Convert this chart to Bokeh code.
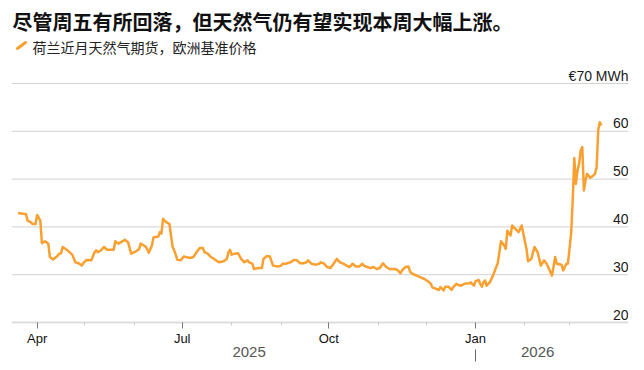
import pandas as pd
from bokeh.plotting import figure
from bokeh.models import ColumnDataSource, Range1d, FixedTicker, Span, DatetimeAxis
from bokeh.core.properties import value
from bokeh.embed import file_html
from bokeh.resources import INLINE

# ---------------- data ----------------
title_text = "尽管周五有所回落，但天然气仍有望实现本周大幅上涨。"
legend_text = "荷兰近月天然气期货，欧洲基准价格"

dates = [
    "2025-03-20", "2025-03-24", "2025-03-25", "2025-03-26", "2025-03-28", "2025-03-29", "2025-03-31",
    "2025-04-01", "2025-04-03", "2025-04-04", "2025-04-06", "2025-04-08", "2025-04-09", "2025-04-11",
    "2025-04-13", "2025-04-15", "2025-04-16", "2025-04-17", "2025-04-20", "2025-04-23", "2025-04-25",
    "2025-04-27", "2025-04-29", "2025-04-30", "2025-05-02", "2025-05-05", "2025-05-07", "2025-05-08",
    "2025-05-09", "2025-05-11", "2025-05-13", "2025-05-15", "2025-05-19", "2025-05-20", "2025-05-22",
    "2025-05-26", "2025-05-28", "2025-05-30", "2025-06-02", "2025-06-04", "2025-06-05", "2025-06-08",
    "2025-06-09", "2025-06-10", "2025-06-12", "2025-06-13", "2025-06-16", "2025-06-17", "2025-06-18",
    "2025-06-19", "2025-06-21", "2025-06-23", "2025-06-25", "2025-06-26", "2025-06-28", "2025-06-30",
    "2025-07-02", "2025-07-06", "2025-07-08", "2025-07-10", "2025-07-12", "2025-07-14", "2025-07-15",
    "2025-07-17", "2025-07-19", "2025-07-21", "2025-07-24", "2025-07-27", "2025-07-29", "2025-07-30",
    "2025-07-31", "2025-08-01", "2025-08-03", "2025-08-05", "2025-08-07", "2025-08-09", "2025-08-11",
    "2025-08-12", "2025-08-14", "2025-08-15", "2025-08-18", "2025-08-20", "2025-08-21", "2025-08-23",
    "2025-08-25", "2025-08-27", "2025-08-30", "2025-09-01", "2025-09-02", "2025-09-04", "2025-09-05",
    "2025-09-07", "2025-09-09", "2025-09-11", "2025-09-13", "2025-09-15", "2025-09-17", "2025-09-18",
    "2025-09-20", "2025-09-23", "2025-09-25", "2025-09-26", "2025-09-28", "2025-09-30", "2025-10-02",
    "2025-10-04", "2025-10-06", "2025-10-08", "2025-10-10", "2025-10-14", "2025-10-16", "2025-10-18",
    "2025-10-20", "2025-10-22", "2025-10-23", "2025-10-25", "2025-10-27", "2025-10-29", "2025-10-31",
    "2025-11-02", "2025-11-04", "2025-11-06", "2025-11-08", "2025-11-11", "2025-11-13", "2025-11-15",
    "2025-11-16", "2025-11-18", "2025-11-20", "2025-11-21", "2025-11-22", "2025-11-25", "2025-11-28",
    "2025-11-30", "2025-12-03", "2025-12-04", "2025-12-05", "2025-12-07", "2025-12-09", "2025-12-10",
    "2025-12-12", "2025-12-13", "2025-12-15", "2025-12-17", "2025-12-18", "2025-12-20", "2025-12-21",
    "2025-12-23", "2025-12-25", "2025-12-28", "2025-12-29", "2025-12-31", "2026-01-01", "2026-01-03",
    "2026-01-04", "2026-01-05", "2026-01-06", "2026-01-07", "2026-01-08", "2026-01-10", "2026-01-12",
    "2026-01-14", "2026-01-15", "2026-01-17", "2026-01-19", "2026-01-20", "2026-01-21", "2026-01-23",
    "2026-01-24", "2026-01-26", "2026-01-28", "2026-01-30", "2026-01-31", "2026-02-02", "2026-02-03",
    "2026-02-05", "2026-02-07", "2026-02-09", "2026-02-11", "2026-02-13", "2026-02-15", "2026-02-18",
    "2026-02-20", "2026-02-21", "2026-02-24", "2026-02-25", "2026-02-27", "2026-02-28", "2026-03-02",
    "2026-03-03", "2026-03-04", "2026-03-05", "2026-03-06", "2026-03-07", "2026-03-08", "2026-03-09",
    "2026-03-10", "2026-03-11", "2026-03-12", "2026-03-14", "2026-03-15", "2026-03-17", "2026-03-18",
    "2026-03-19", "2026-03-20", "2026-03-21",
]

prices = [
    42.9, 42.7, 42.7, 41.3, 41.0, 40.6, 40.6,
    42.5, 41.3, 36.6, 37.0, 36.5, 33.7, 33.2,
    33.7, 34.4, 34.5, 35.8, 35.1, 34.2, 32.6,
    32.4, 31.9, 32.4, 33.1, 33.0, 34.7, 35.1,
    34.7, 35.1, 35.8, 35.2, 35.2, 37.0, 36.5,
    37.3, 36.8, 34.4, 34.9, 35.4, 36.5, 35.9,
    35.4, 34.6, 36.1, 37.8, 38.0, 38.9, 38.6,
    41.7, 41.0, 40.6, 35.8, 35.1, 33.1, 33.0,
    33.8, 33.5, 33.7, 34.7, 35.6, 35.6, 34.7,
    34.4, 33.7, 33.3, 32.6, 32.8, 33.3, 34.7,
    35.2, 34.2, 34.4, 34.5, 33.3, 32.6, 33.0,
    32.6, 32.3, 31.2, 31.4, 31.4, 33.3, 33.9,
    33.8, 31.9, 31.7, 31.9, 32.3, 32.3, 32.4,
    32.6, 33.1, 33.0, 32.4, 32.4, 32.6, 33.0,
    32.3, 32.1, 32.3, 32.6, 32.3, 31.6, 31.4,
    32.3, 33.3, 32.6, 32.3, 31.6, 32.3, 31.7,
    31.7, 32.3, 31.9, 31.6, 31.4, 31.6, 31.2,
    31.4, 32.4, 31.6, 31.2, 31.2, 31.0, 30.3,
    30.9, 31.6, 31.7, 30.6, 30.3, 29.8, 29.4,
    29.1, 28.4, 28.1, 27.3, 27.1, 26.8, 27.4,
    26.7, 27.5, 27.5, 26.8, 27.4, 28.1, 27.9,
    27.7, 28.1, 28.2, 28.4, 27.7, 28.6, 28.9,
    28.1, 27.5, 28.4, 28.8, 27.7, 28.4, 29.8,
    31.6, 32.4, 37.0, 36.1, 35.4, 39.2, 38.2,
    40.3, 39.6, 38.9, 40.3, 38.6, 35.4, 32.8,
    33.3, 35.8, 34.7, 31.9, 33.0, 32.1, 29.8,
    33.7, 32.3, 32.1, 30.9, 32.3, 32.3, 38.6,
    45.5, 54.4, 49.0, 51.8, 53.2, 56.0, 56.7,
    47.6, 49.7, 51.1, 50.3, 50.5, 51.1, 52.5,
    60.2, 61.9, 61.2,
]

y_ticks = [20, 30, 40, 50, 60, 70]
y_tick_labels = ["20", "30", "40", "50", "60", "€70 MWh"]

month_tick_dates = ["2025-04-01", "2025-07-01", "2025-10-01", "2026-01-01"]
month_tick_labels = ["Apr", "Jul", "Oct", "Jan"]
minor_tick_dates = ["2025-05-01", "2025-06-01", "2025-08-01", "2025-09-01", "2025-11-01",
                    "2025-12-01", "2026-02-01", "2026-03-01"]

year_label_dates = ["2025-08-12", "2026-02-09"]
year_labels = ["2025", "2026"]
year_separator_dates = ["2026-01-01"]

x_window = ["2025-03-15T22:00", "2026-04-07T00:00"]

# ---------------- layout / style ----------------
W, H = 644, 370
B_LEFT, B_RIGHT = 11, 16
AXIS_PY = 322            # pixel row of the value-20 baseline
FRAME_W = W - B_LEFT - B_RIGHT
PX_PER_UNIT = 4.78
ORANGE = "#f9a030"


def ms(d):
    return pd.Timestamp(d).value / 1e6


x0, x1 = ms(x_window[0]), ms(x_window[1])
y_base = y_ticks[0]
y0 = y_base - (H - AXIS_PY) / PX_PER_UNIT
y1 = y_base + AXIS_PY / PX_PER_UNIT


def xpx(px):
    return x0 + (px - B_LEFT) / FRAME_W * (x1 - x0)


def ypx(py):
    return y_base + (AXIS_PY - py) / PX_PER_UNIT


p = figure(width=W, height=H, x_axis_type="datetime", y_axis_location=None,
           x_range=Range1d(x0, x1), y_range=Range1d(y0, y1),
           output_backend="svg", toolbar_location=None,
           min_border_left=B_LEFT, min_border_right=B_RIGHT,
           min_border_top=0, min_border_bottom=0)
p.title.visible = False
p.outline_line_color = None
p.background_fill_color = "white"
p.border_fill_color = "white"
p.xgrid.visible = False
p.ygrid.visible = False

for v in y_ticks[1:]:
    p.add_layout(Span(location=v, dimension="width", line_color="#d2d2d2",
                      line_width=1, level="underlay"))

# x axis (months), pinned at value 20
xa = p.xaxis[0]
xa.fixed_location = y_base
major_ms = [ms(d) for d in month_tick_dates]
xa.ticker = FixedTicker(ticks=major_ms, minor_ticks=[ms(d) for d in minor_tick_dates])
xa.major_label_overrides = {t: lab for t, lab in zip(major_ms, month_tick_labels)}
xa.axis_line_color = "#dddddd"
xa.axis_line_width = 2
xa.major_tick_line_color = "#777777"
xa.major_tick_in = 0
xa.major_tick_out = 6
xa.minor_tick_line_color = "#cccccc"
xa.minor_tick_in = 0
xa.minor_tick_out = 3
xa.major_label_standoff = 2
xa.major_label_text_font = "Liberation Sans"
xa.major_label_text_font_size = "13px"
xa.major_label_text_color = "#111111"

# year labels: an axis pinned just under the month labels
year_ms = [ms(d) for d in year_label_dates]
yr_axis = DatetimeAxis(ticker=FixedTicker(ticks=year_ms, minor_ticks=[]),
                       fixed_location=ypx(346))
yr_axis.major_label_overrides = {t: lab for t, lab in zip(year_ms, year_labels)}
yr_axis.axis_line_color = None
yr_axis.major_tick_line_color = None
yr_axis.minor_tick_line_color = None
yr_axis.major_tick_in = 0
yr_axis.major_tick_out = 0
yr_axis.minor_tick_in = 0
yr_axis.minor_tick_out = 0
yr_axis.major_label_standoff = 0
yr_axis.major_label_text_font = "Liberation Sans"
yr_axis.major_label_text_font_size = "15px"
yr_axis.major_label_text_color = "#555555"
p.add_layout(yr_axis, "below")

# year separator: a single tick on another pinned axis
sep_ms = [ms(d) for d in year_separator_dates]
sep_axis = DatetimeAxis(ticker=FixedTicker(ticks=sep_ms, minor_ticks=[]),
                        fixed_location=ypx(349))
sep_axis.major_label_overrides = {t: "" for t in sep_ms}
sep_axis.axis_line_color = None
sep_axis.minor_tick_line_color = None
sep_axis.major_tick_line_color = "#666666"
sep_axis.major_tick_in = 0
sep_axis.major_tick_out = 12
sep_axis.major_label_text_color = None
p.add_layout(sep_axis, "below")

# price line
src = ColumnDataSource(dict(x=[ms(d) for d in dates], y=prices))
p.line("x", "y", source=src, line_color=ORANGE, line_width=2.5, line_join="round")

# y tick labels (right side, above gridlines)
ysrc = ColumnDataSource(dict(x=[x1] * len(y_ticks), y=y_ticks, t=y_tick_labels))
p.text("x", "y", text="t", source=ysrc, text_align="right", text_baseline="alphabetic",
       y_offset=-8, x_offset=0, text_font=value("Liberation Sans"), text_font_size="14px",
       text_color="#1a1a1a")

# title and legend
p.text(x=[xpx(12)], y=[ypx(20.5)], text=[title_text], text_baseline="middle",
       text_font=value("Noto Sans CJK SC"), text_font_style="bold",
       text_font_size="20px", text_color="#111111")
p.segment(x0=[xpx(17)], y0=[ypx(48)], x1=[xpx(25)], y1=[ypx(42)],
          line_color=ORANGE, line_width=3, line_cap="round")
p.text(x=[xpx(32)], y=[ypx(46)], text=[legend_text], text_baseline="middle",
       text_font=value("Noto Sans CJK SC"), text_font_size="14px", text_color="#222222")

open("out.html", "w").write(file_html(p, INLINE))
